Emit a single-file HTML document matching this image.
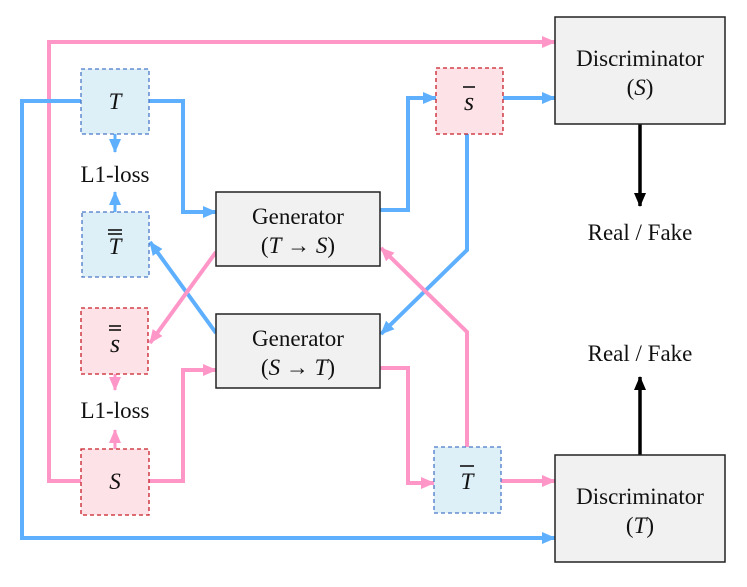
<!DOCTYPE html>
<html><head><style>
html,body{margin:0;padding:0;background:#fff;}
svg{display:block;}
svg text{font-family:"Liberation Serif","Times New Roman","DejaVu Serif",serif !important;fill:#111;}
</style></head><body>
<svg width="747" height="587" viewBox="0 0 747 587" xmlns="http://www.w3.org/2000/svg">
<defs>
<marker id="ab" markerWidth="14" markerHeight="12" refX="13" refY="6" orient="auto" markerUnits="userSpaceOnUse"><path d="M0,0 L14,6 L0,12 z" fill="#5eb0ff"/></marker>
<marker id="ap" markerWidth="14" markerHeight="12" refX="13" refY="6" orient="auto" markerUnits="userSpaceOnUse"><path d="M0,0 L14,6 L0,12 z" fill="#ff96c8"/></marker>
<marker id="ak" markerWidth="14" markerHeight="12" refX="13" refY="6" orient="auto" markerUnits="userSpaceOnUse"><path d="M0,0 L14,6 L0,12 z" fill="#000"/></marker>
</defs>
<g fill="none" stroke-width="4" stroke-linejoin="miter">
<polyline points="81,481 49,481 49,42 555,42" stroke="#ff96c8" marker-end="url(#ap)"/>
<polyline points="81,101 22,101 22,538 555,538" stroke="#5eb0ff" marker-end="url(#ab)"/>
<polyline points="149,101 183,101 183,212 216,212" stroke="#5eb0ff" marker-end="url(#ab)"/>
<polyline points="380,210 408,210 408,98 436,98" stroke="#5eb0ff" marker-end="url(#ab)"/>
<polyline points="503,98 555,98" stroke="#5eb0ff" marker-end="url(#ab)"/>
<polyline points="467,134 467,250 381,334" stroke="#5eb0ff" marker-end="url(#ab)"/>
<polyline points="216,333 150,242" stroke="#5eb0ff" marker-end="url(#ab)"/>
<polyline points="115,134 115,152" stroke="#5eb0ff" stroke-width="3" marker-end="url(#ab)"/>
<polyline points="115,212 115,192" stroke="#5eb0ff" stroke-width="3" marker-end="url(#ab)"/>
<polyline points="216,252 150,343" stroke="#ff96c8" marker-end="url(#ap)"/>
<polyline points="149,481 183,481 183,370 216,370" stroke="#ff96c8" marker-end="url(#ap)"/>
<polyline points="380,368 408,368 408,483 434,483" stroke="#ff96c8" marker-end="url(#ap)"/>
<polyline points="501,481 555,481" stroke="#ff96c8" marker-end="url(#ap)"/>
<polyline points="467,447 467,332 381,248" stroke="#ff96c8" marker-end="url(#ap)"/>
<polyline points="115,374 115,390" stroke="#ff96c8" stroke-width="3" marker-end="url(#ap)"/>
<polyline points="115,449 115,430" stroke="#ff96c8" stroke-width="3" marker-end="url(#ap)"/>
<polyline points="640,124 640,206" stroke="#000" stroke-width="3.5" marker-end="url(#ak)"/>
<polyline points="640,455 640,377" stroke="#000" stroke-width="3.5" marker-end="url(#ak)"/>
</g>
<g stroke-width="1.3" stroke-dasharray="4,3">
<rect x="81" y="69" width="68" height="65" fill="#ddf0f7" stroke="#4a78c8"/>
<rect x="82" y="212" width="67" height="65" fill="#ddf0f7" stroke="#4a78c8"/>
<rect x="81" y="308" width="67" height="66" fill="#fde3e7" stroke="#c81e28"/>
<rect x="81" y="449" width="68" height="66" fill="#fde3e7" stroke="#c81e28"/>
<rect x="436" y="68" width="67" height="66" fill="#fde3e7" stroke="#c81e28"/>
<rect x="434" y="447" width="67" height="66" fill="#ddf0f7" stroke="#4a78c8"/>
</g>
<g fill="#f1f1f1" stroke="#222" stroke-width="1.5">
<rect x="216" y="192" width="164" height="74"/>
<rect x="216" y="314" width="164" height="74"/>
<rect x="555" y="17" width="170" height="107"/>
<rect x="555" y="455" width="170" height="107"/>
</g>
<g stroke="#111" stroke-width="1.6">
<line x1="108" y1="230" x2="122" y2="230"/><line x1="108" y1="234" x2="122" y2="234"/>
<line x1="109" y1="326" x2="121" y2="326"/><line x1="109" y1="330" x2="121" y2="330"/>
<line x1="463" y1="87" x2="475" y2="87"/>
<line x1="460" y1="466" x2="474" y2="466"/>
</g>
<g font-size="23" text-anchor="middle" font-family="Liberation Serif, serif">
<text x="115" y="109" font-style="italic">T</text>
<text x="115" y="254" font-style="italic">T</text>
<text x="115" y="352" font-style="italic" font-size="26">s</text>
<text x="115" y="489" font-style="italic">S</text>
<text x="469" y="110" font-style="italic" font-size="26">s</text>
<text x="467" y="489" font-style="italic">T</text>
<text x="115" y="182">L1-loss</text>
<text x="115" y="418">L1-loss</text>
<text x="298" y="224">Generator</text>
<text x="298" y="253">(<tspan font-style="italic">T</tspan> → <tspan font-style="italic">S</tspan>)</text>
<text x="298" y="346">Generator</text>
<text x="298" y="375">(<tspan font-style="italic">S</tspan> → <tspan font-style="italic">T</tspan>)</text>
<text x="640" y="66">Discriminator</text>
<text x="640" y="95">(<tspan font-style="italic">S</tspan>)</text>
<text x="640" y="504">Discriminator</text>
<text x="640" y="533">(<tspan font-style="italic">T</tspan>)</text>
<text x="640" y="240">Real / Fake</text>
<text x="640" y="361">Real / Fake</text>
</g>
</svg>
</body></html>
